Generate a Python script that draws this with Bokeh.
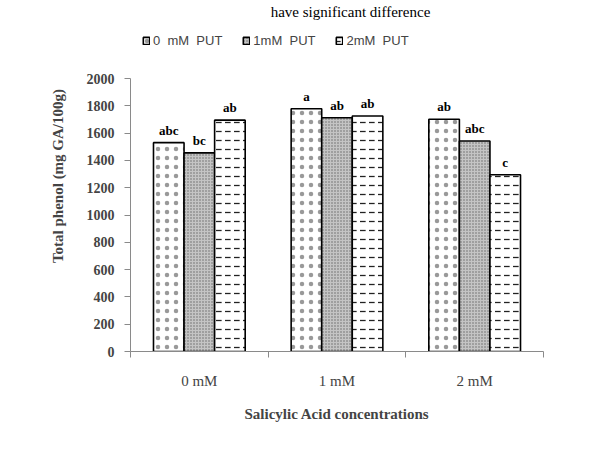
from bokeh.plotting import figure
from bokeh.models import (Range1d, FixedTicker, Legend, LegendItem, Label, ColumnDataSource)
from bokeh.embed import file_html
from bokeh.resources import INLINE

categories = ["0 mM", "1 mM", "2 mM"]
series_names = ["0  mM  PUT", "1mM  PUT", "2mM  PUT"]
put0 = [1530, 1778, 1702]
put1 = [1455, 1712, 1542]
put2 = [1695, 1725, 1295]
letters0 = ["abc", "a", "ab"]
letters1 = ["bc", "ab", "abc"]
letters2 = ["ab", "ab", "c"]
y_ticks = [0, 200, 400, 600, 800, 1000, 1200, 1400, 1600, 1800, 2000]

# frame spans y=0..351 px; value 2000 sits at y=78 px
y_top = 2000 * 351 / (351 - 78)

p = figure(width=603, height=449, output_backend="svg", toolbar_location=None,
           x_range=Range1d(0, 3), y_range=Range1d(0, y_top),
           min_border_left=130, min_border_right=60, min_border_top=0,
           min_border_bottom=98)
p.outline_line_color = None
p.grid.visible = False
p.background_fill_color = "white"

bw = 0.222
offsets = [-bw, 0.0, bw]
series = [put0, put1, put2]
letters = [letters0, letters1, letters2]
styles = [
    dict(fill_color="white", hatch_pattern=".", hatch_scale=9, hatch_color="#555555", hatch_alpha=0.6),
    dict(fill_color="#c4c4c4", hatch_pattern=".", hatch_scale=3, hatch_color="#666666", hatch_weight=0.8),
    dict(fill_color="white", hatch_pattern='"', hatch_scale=9, hatch_color="#222222", hatch_weight=1.3),
]
renderers = []
for i, vals in enumerate(series):
    xs = [k + 0.5 + offsets[i] for k in range(len(categories))]
    src = ColumnDataSource(dict(x=xs, top=vals, lab=letters[i]))
    r = p.vbar(x="x", top="top", width=bw, source=src, line_color="black",
               line_width=1.6, **styles[i])
    renderers.append(r)
    p.text(x="x", y="top", text="lab", source=src, text_align="center",
           text_baseline="bottom", y_offset=-5, text_font="Liberation Serif",
           text_font_style="bold", text_font_size="13px", text_color="black")

legend = Legend(items=[LegendItem(label=series_names[i], renderers=[renderers[i]]) for i in range(3)],
                orientation="horizontal", location=(12, 303), background_fill_alpha=0,
                border_line_color=None, glyph_width=8, glyph_height=9,
                label_text_font="Liberation Sans", label_text_font_size="13px",
                spacing=20, label_standoff=3, padding=4, margin=0)
p.add_layout(legend, "center")

p.yaxis.bounds = (0, 2000)
p.yaxis.ticker = FixedTicker(ticks=y_ticks, minor_ticks=[])
p.yaxis.axis_line_color = "#8a8a8a"
p.yaxis.major_tick_line_color = "#8a8a8a"
p.yaxis.major_tick_out = 6
p.yaxis.major_tick_in = 0
p.yaxis.major_label_text_font = "Liberation Serif"
p.yaxis.major_label_text_font_style = "bold"
p.yaxis.major_label_text_font_size = "14px"
p.yaxis.major_label_standoff = 10
p.yaxis.axis_label = "Total phenol (mg GA/100g)"
p.yaxis.axis_label_text_font = "Liberation Serif"
p.yaxis.axis_label_text_font_style = "bold"
p.yaxis.axis_label_text_font_size = "15px"
p.yaxis.axis_label_standoff = 18

p.xaxis.ticker = FixedTicker(ticks=[0.5, 1.5, 2.5], minor_ticks=[0, 1, 2, 3])
p.xaxis.major_label_overrides = {0.5: categories[0], 1.5: categories[1], 2.5: categories[2]}
p.xaxis.axis_line_color = "#8a8a8a"
p.xaxis.major_tick_out = 0
p.xaxis.major_tick_in = 0
p.xaxis.minor_tick_out = 6
p.xaxis.minor_tick_in = 0
p.xaxis.minor_tick_line_color = "#8a8a8a"
p.xaxis.major_label_text_font = "Liberation Serif"
p.xaxis.major_label_text_font_size = "15px"
p.xaxis.major_label_standoff = 15
p.xaxis.axis_label = "Salicylic Acid concentrations"
p.xaxis.axis_label_text_font = "Liberation Serif"
p.xaxis.axis_label_text_font_style = "bold"
p.xaxis.axis_label_text_font_size = "15px"
p.xaxis.axis_label_standoff = 14

top_text = Label(x=220, y=340, x_units="screen", y_units="screen",
                 text="have significant difference", text_font="Liberation Serif",
                 text_font_size="15px", text_align="center", text_baseline="alphabetic",
                 text_color="black")
p.add_layout(top_text)

open("out.html", "w").write(file_html(p, INLINE))
